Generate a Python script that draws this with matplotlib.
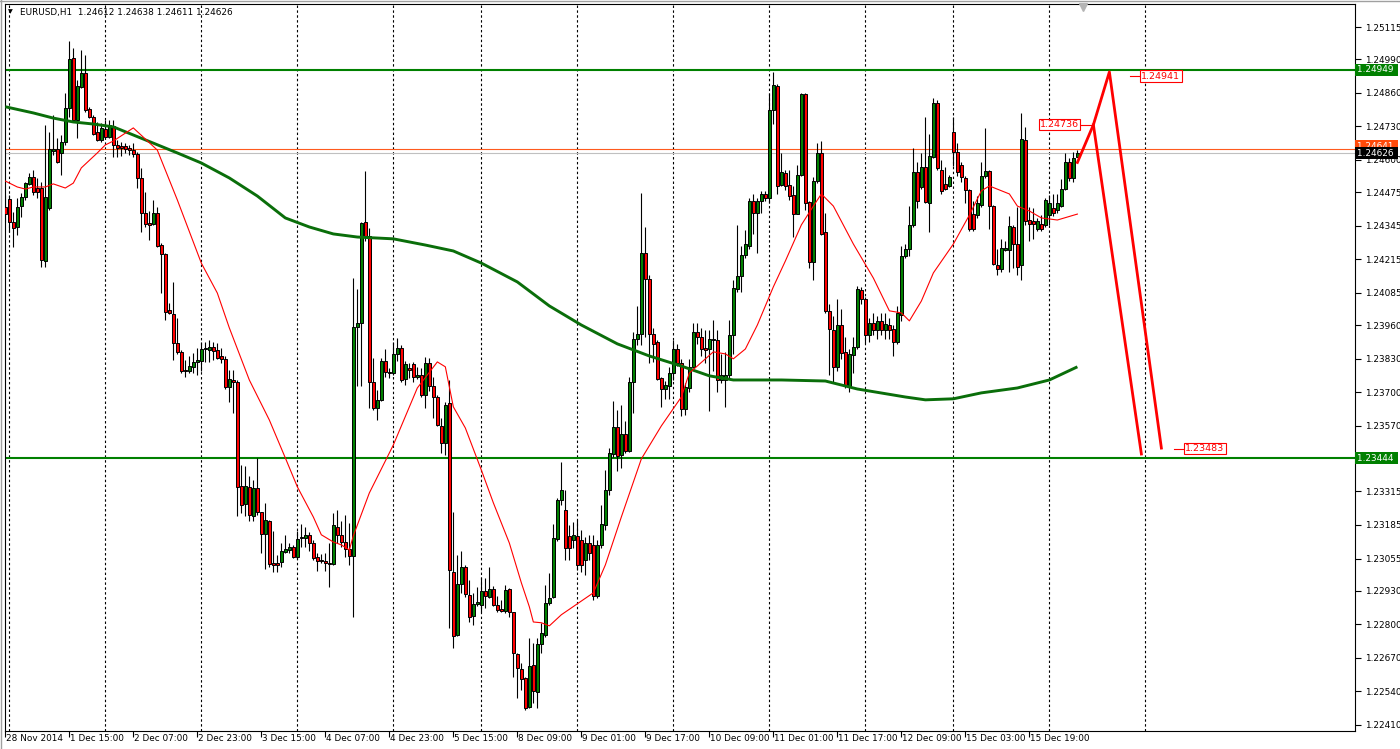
import numpy as np
import matplotlib.pyplot as plt
from matplotlib.lines import Line2D
from matplotlib.transforms import blended_transform_factory, ScaledTranslation

# EURUSD H1, first bar = 28 Nov 21:00 (index -1), bar 0 = 1 Dec 00:00
opens = [
    1.24419, 1.24448, 1.24358, 1.24341, 1.24423, 1.24457, 1.24507, 1.24535, 1.24492, 1.24490,
    1.24209, 1.24415, 1.24636, 1.24641, 1.24625, 1.24668, 1.24802, 1.24994, 1.24755, 1.24884,
    1.24935, 1.24797, 1.24768, 1.24707, 1.24677, 1.24720, 1.24690, 1.24733, 1.24658, 1.24654,
    1.24654, 1.24645, 1.24639, 1.24623, 1.24529, 1.24396, 1.24354, 1.24352, 1.24393, 1.24270,
    1.24235, 1.24018, 1.24003, 1.23889, 1.23854, 1.23786, 1.23780, 1.23799, 1.23818, 1.23822,
    1.23866, 1.23863, 1.23875, 1.23863, 1.23838, 1.23830, 1.23719, 1.23747, 1.23738, 1.23336,
    1.23265, 1.23334, 1.23218, 1.23327, 1.23234, 1.23151, 1.23201, 1.23037, 1.23037, 1.23041,
    1.23082, 1.23088, 1.23099, 1.23059, 1.23134, 1.23134, 1.23147, 1.23114, 1.23059, 1.23050,
    1.23047, 1.23037, 1.23033, 1.23179, 1.23147, 1.23120, 1.23090, 1.23065, 1.23954, 1.23967,
    1.24360, 1.24305, 1.23741, 1.23638, 1.23670, 1.23819, 1.23777, 1.23773, 1.23848, 1.23870,
    1.23751, 1.23793, 1.23808, 1.23758, 1.23767, 1.23689, 1.23812, 1.23722, 1.23680, 1.23567,
    1.23502, 1.23657, 1.23002, 1.22759, 1.22957, 1.23021, 1.22914, 1.22832, 1.22879, 1.22875,
    1.22929, 1.22907, 1.22937, 1.22875, 1.22858, 1.22853, 1.22937, 1.22846, 1.22685, 1.22627,
    1.22593, 1.22479, 1.22643, 1.22539, 1.22724, 1.22759, 1.22882, 1.22905, 1.23130, 1.23282,
    1.23243, 1.23143, 1.23127, 1.23143, 1.23127, 1.23050, 1.23116, 1.23108, 1.22910, 1.23108,
    1.23185, 1.23321, 1.23460, 1.23566, 1.23456, 1.23538, 1.23473, 1.23738, 1.23905, 1.23925,
    1.24240, 1.24137, 1.23925, 1.23893, 1.23753, 1.23711, 1.23725, 1.23773, 1.23866, 1.23811,
    1.23635, 1.23714, 1.23796, 1.23931, 1.23913, 1.23870, 1.23866, 1.23900, 1.23900, 1.23746,
    1.23746, 1.23765, 1.23922, 1.24098, 1.24150, 1.24232, 1.24265, 1.24441, 1.24395, 1.24441,
    1.24469, 1.24451, 1.24794, 1.24886, 1.24501, 1.24549, 1.24501, 1.24464, 1.24392, 1.24543,
    1.24855, 1.24438, 1.24204, 1.24519, 1.24627, 1.24321, 1.24015, 1.23941, 1.23796, 1.23959,
    1.23855, 1.23722, 1.23844, 1.23876, 1.24095, 1.24061, 1.23922, 1.23968, 1.23941, 1.23974,
    1.23941, 1.23959, 1.23944, 1.23894, 1.24000, 1.24228, 1.24256, 1.24349, 1.24553, 1.24493,
    1.24571, 1.24432, 1.24612, 1.24821, 1.24562, 1.24506, 1.24497, 1.24710, 1.24630, 1.24580,
    1.24530, 1.24482, 1.24389, 1.24386, 1.24426, 1.24538, 1.24556, 1.24423, 1.24191, 1.24178,
    1.24252, 1.24252, 1.24339, 1.24274, 1.24191, 1.24679, 1.24367, 1.24363, 1.24334, 1.24352,
    1.24349, 1.24386, 1.24413, 1.24404, 1.24423, 1.24488, 1.24590, 1.24530, 1.24612,
]
highs = [
    1.24464, 1.24464, 1.24399, 1.24451, 1.24470, 1.24516, 1.24548, 1.24561, 1.24529, 1.24516,
    1.24735, 1.24709, 1.24774, 1.24684, 1.24697, 1.24858, 1.25061, 1.25032, 1.24910, 1.25026,
    1.25006, 1.24806, 1.24774, 1.24748, 1.24742, 1.24755, 1.24755, 1.24755, 1.24677, 1.24671,
    1.24664, 1.24658, 1.24664, 1.24632, 1.24567, 1.24477, 1.24400, 1.24445, 1.24419, 1.24277,
    1.24238, 1.24044, 1.24128, 1.23986, 1.23863, 1.23825, 1.23838, 1.23851, 1.23870, 1.23896,
    1.23896, 1.23900, 1.23896, 1.23889, 1.23870, 1.23838, 1.23786, 1.23786, 1.23747, 1.23418,
    1.23414, 1.23375, 1.23360, 1.23444, 1.23237, 1.23269, 1.23205, 1.23160, 1.23069, 1.23114,
    1.23147, 1.23114, 1.23108, 1.23160, 1.23189, 1.23179, 1.23156, 1.23127, 1.23076, 1.23073,
    1.23078, 1.23114, 1.23231, 1.23244, 1.23200, 1.23224, 1.23193, 1.24141, 1.24099, 1.24361,
    1.24557, 1.24335, 1.23831, 1.23709, 1.23831, 1.23866, 1.23793, 1.23896, 1.23909, 1.23883,
    1.23819, 1.23812, 1.23816, 1.23799, 1.23793, 1.23835, 1.23831, 1.23760, 1.23689, 1.23599,
    1.23660, 1.23747, 1.23237, 1.23069, 1.23086, 1.23030, 1.22972, 1.22920, 1.22946, 1.22985,
    1.22979, 1.23024, 1.22949, 1.22910, 1.22894, 1.22953, 1.22940, 1.22849, 1.22688, 1.22649,
    1.22597, 1.22746, 1.22727, 1.22746, 1.22804, 1.22953, 1.22998, 1.23189, 1.23288, 1.23429,
    1.23321, 1.23185, 1.23197, 1.23205, 1.23166, 1.23139, 1.23147, 1.23147, 1.23127, 1.23263,
    1.23398, 1.23484, 1.23667, 1.23631, 1.23650, 1.23589, 1.23760, 1.23934, 1.24034, 1.24473,
    1.24341, 1.24154, 1.23947, 1.23902, 1.23757, 1.23744, 1.23799, 1.23902, 1.23885, 1.23829,
    1.23737, 1.23829, 1.23968, 1.23968, 1.23950, 1.23941, 1.23941, 1.23978, 1.23941, 1.23848,
    1.23855, 1.23978, 1.24135, 1.24349, 1.24265, 1.24330, 1.24451, 1.24469, 1.24451, 1.24478,
    1.24478, 1.24858, 1.24942, 1.24896, 1.24627, 1.24562, 1.24562, 1.24497, 1.24580, 1.24858,
    1.24858, 1.24441, 1.24534, 1.24664, 1.24673, 1.24395, 1.24043, 1.23996, 1.24061, 1.24024,
    1.23913, 1.23866, 1.23913, 1.24111, 1.24108, 1.24070, 1.23987, 1.24006, 1.23996, 1.24006,
    1.24006, 1.23987, 1.23959, 1.24033, 1.24265, 1.24274, 1.24423, 1.24645, 1.24590, 1.24627,
    1.24766, 1.24701, 1.24840, 1.24831, 1.24599, 1.24571, 1.24543, 1.24766, 1.24664, 1.24593,
    1.24538, 1.24488, 1.24441, 1.24460, 1.24590, 1.24723, 1.24562, 1.24426, 1.24256, 1.24293,
    1.24284, 1.24382, 1.24349, 1.24419, 1.24781, 1.24729, 1.24419, 1.24413, 1.24376, 1.24386,
    1.24451, 1.24464, 1.24469, 1.24469, 1.24525, 1.24627, 1.24608, 1.24630, 1.24638,
]
lows = [
    1.24361, 1.24322, 1.24264, 1.24309, 1.24380, 1.24445, 1.24503, 1.24464, 1.24451, 1.24186,
    1.24186, 1.24406, 1.24619, 1.24587, 1.24542, 1.24658, 1.24768, 1.24748, 1.24684, 1.24877,
    1.24787, 1.24761, 1.24697, 1.24673, 1.24671, 1.24684, 1.24684, 1.24613, 1.24613, 1.24615,
    1.24626, 1.24619, 1.24613, 1.24490, 1.24322, 1.24341, 1.24290, 1.24348, 1.24261, 1.24083,
    1.23980, 1.24003, 1.23825, 1.23848, 1.23773, 1.23758, 1.23773, 1.23773, 1.23767, 1.23780,
    1.23818, 1.23818, 1.23825, 1.23827, 1.23812, 1.23711, 1.23663, 1.23618, 1.23218, 1.23231,
    1.23220, 1.23202, 1.23202, 1.23224, 1.23076, 1.23014, 1.23021, 1.23001, 1.23001, 1.23021,
    1.23078, 1.23078, 1.23056, 1.23054, 1.23101, 1.23101, 1.23086, 1.23050, 1.23008, 1.23037,
    1.23005, 1.22944, 1.23030, 1.23114, 1.23100, 1.23060, 1.23030, 1.22829, 1.23722, 1.23722,
    1.24284, 1.23638, 1.23631, 1.23593, 1.23664, 1.23760, 1.23754, 1.23767, 1.23819, 1.23741,
    1.23728, 1.23754, 1.23741, 1.23750, 1.23680, 1.23638, 1.23706, 1.23599, 1.23567, 1.23463,
    1.23457, 1.22785, 1.22707, 1.22755, 1.22920, 1.22907, 1.22810, 1.22798, 1.22869, 1.22849,
    1.22862, 1.22901, 1.22869, 1.22849, 1.22849, 1.22843, 1.22830, 1.22597, 1.22513, 1.22546,
    1.22469, 1.22475, 1.22494, 1.22475, 1.22690, 1.22752, 1.22875, 1.22901, 1.23121, 1.23263,
    1.23050, 1.23050, 1.23096, 1.23011, 1.23003, 1.22992, 1.23050, 1.22895, 1.22902, 1.23096,
    1.23166, 1.23301, 1.23450, 1.23396, 1.23405, 1.23465, 1.23469, 1.23618, 1.23883, 1.23883,
    1.23915, 1.23812, 1.23818, 1.23747, 1.23641, 1.23672, 1.23672, 1.23747, 1.23800, 1.23607,
    1.23611, 1.23700, 1.23792, 1.23885, 1.23839, 1.23811, 1.23625, 1.23783, 1.23700, 1.23737,
    1.23644, 1.23756, 1.23848, 1.24089, 1.24089, 1.24219, 1.24256, 1.24311, 1.24241, 1.24395,
    1.24441, 1.24432, 1.24738, 1.24469, 1.24497, 1.24482, 1.24445, 1.24302, 1.24389, 1.24538,
    1.24404, 1.24182, 1.24135, 1.24512, 1.24308, 1.24006, 1.23765, 1.23737, 1.23783, 1.23829,
    1.23714, 1.23700, 1.23774, 1.23866, 1.24043, 1.23889, 1.23894, 1.23922, 1.23904, 1.23922,
    1.23904, 1.23907, 1.23839, 1.23885, 1.23974, 1.24219, 1.24228, 1.24339, 1.24413, 1.24488,
    1.24432, 1.24321, 1.24608, 1.24562, 1.24469, 1.24482, 1.24493, 1.24575, 1.24538, 1.24515,
    1.24432, 1.24326, 1.24326, 1.24376, 1.24419, 1.24530, 1.24334, 1.24191, 1.24154, 1.24167,
    1.24247, 1.24167, 1.24182, 1.24154, 1.24135, 1.24349, 1.24284, 1.24293, 1.24326, 1.24326,
    1.24339, 1.24349, 1.24382, 1.24395, 1.24419, 1.24482, 1.24519, 1.24515, 1.24611,
]
closes = [
    1.24389, 1.24361, 1.24337, 1.24419, 1.24457, 1.24509, 1.24535, 1.24474, 1.24474, 1.24212,
    1.24455, 1.24641, 1.24641, 1.24591, 1.24668, 1.24802, 1.24990, 1.24755, 1.24886, 1.24935,
    1.24793, 1.24768, 1.24700, 1.24677, 1.24725, 1.24690, 1.24735, 1.24658, 1.24645, 1.24645,
    1.24644, 1.24639, 1.24623, 1.24531, 1.24393, 1.24350, 1.24349, 1.24393, 1.24268, 1.24235,
    1.24012, 1.24006, 1.23889, 1.23854, 1.23780, 1.23780, 1.23801, 1.23816, 1.23825, 1.23867,
    1.23871, 1.23875, 1.23860, 1.23834, 1.23830, 1.23719, 1.23750, 1.23738, 1.23334, 1.23263,
    1.23336, 1.23222, 1.23327, 1.23234, 1.23151, 1.23205, 1.23033, 1.23030, 1.23030, 1.23085,
    1.23092, 1.23099, 1.23059, 1.23130, 1.23140, 1.23147, 1.23114, 1.23056, 1.23047, 1.23044,
    1.23037, 1.23034, 1.23185, 1.23147, 1.23120, 1.23090, 1.23065, 1.23954, 1.23967, 1.24357,
    1.24305, 1.23741, 1.23638, 1.23670, 1.23819, 1.23777, 1.23773, 1.23848, 1.23870, 1.23747,
    1.23809, 1.23786, 1.23758, 1.23767, 1.23689, 1.23812, 1.23722, 1.23680, 1.23573, 1.23502,
    1.23651, 1.23011, 1.22755, 1.22957, 1.23021, 1.22916, 1.22827, 1.22879, 1.22888, 1.22929,
    1.22910, 1.22937, 1.22875, 1.22856, 1.22853, 1.22933, 1.22849, 1.22688, 1.22630, 1.22587,
    1.22475, 1.22639, 1.22543, 1.22724, 1.22768, 1.22882, 1.22901, 1.23133, 1.23282, 1.23321,
    1.23096, 1.23096, 1.23147, 1.23030, 1.23030, 1.23116, 1.23077, 1.22910, 1.23108, 1.23189,
    1.23321, 1.23463, 1.23566, 1.23452, 1.23538, 1.23473, 1.23738, 1.23905, 1.23925, 1.24240,
    1.24137, 1.23925, 1.23886, 1.23751, 1.23711, 1.23728, 1.23775, 1.23866, 1.23811, 1.23635,
    1.23718, 1.23796, 1.23931, 1.23913, 1.23866, 1.23863, 1.23904, 1.23904, 1.23746, 1.23765,
    1.23765, 1.23922, 1.24104, 1.24150, 1.24232, 1.24274, 1.24441, 1.24395, 1.24441, 1.24469,
    1.24451, 1.24794, 1.24890, 1.24497, 1.24553, 1.24497, 1.24460, 1.24392, 1.24543, 1.24855,
    1.24432, 1.24204, 1.24519, 1.24627, 1.24311, 1.24015, 1.23944, 1.23796, 1.23959, 1.23852,
    1.23722, 1.23848, 1.23876, 1.24098, 1.24061, 1.23922, 1.23968, 1.23941, 1.23974, 1.23941,
    1.23963, 1.23941, 1.23894, 1.24006, 1.24228, 1.24256, 1.24349, 1.24553, 1.24441, 1.24571,
    1.24438, 1.24617, 1.24821, 1.24567, 1.24478, 1.24488, 1.24534, 1.24630, 1.24553, 1.24534,
    1.24482, 1.24334, 1.24334, 1.24432, 1.24538, 1.24556, 1.24423, 1.24197, 1.24178, 1.24260,
    1.24260, 1.24345, 1.24274, 1.24186, 1.24682, 1.24363, 1.24352, 1.24352, 1.24363, 1.24334,
    1.24445, 1.24432, 1.24395, 1.24432, 1.24488, 1.24590, 1.24530, 1.24608, 1.24626,
]

# moving averages (bar index, price)
red_ma_bar = [-1, 2, 4, 6, 9, 11, 14, 16, 18, 22, 24, 26, 31, 37, 42, 48, 52, 55, 60, 65,
              69, 72, 76, 78, 81, 83, 85, 86, 90, 96, 102, 107, 109, 111, 114, 118, 121, 125,
              128, 130, 131, 133, 135, 138, 146, 149, 153, 158, 163, 168, 170, 176, 179, 181,
              184, 187, 191, 194, 198, 201, 203, 206, 211, 216, 220, 223, 225, 228, 231, 236,
              240, 243, 245, 250, 252, 255, 258, 262, 267]
red_ma_val = [1.24518, 1.24495, 1.24487, 1.24495, 1.24495, 1.24507, 1.24491, 1.24510, 1.24569,
              1.24627, 1.24658, 1.24673, 1.24724, 1.24638, 1.24445, 1.24200, 1.24084, 1.23949,
              1.23747, 1.23592, 1.23445, 1.23333, 1.23216, 1.23147, 1.23119, 1.23108, 1.23088,
              1.23143, 1.23309, 1.23495, 1.23716, 1.23817, 1.23798, 1.23643, 1.23561, 1.23398,
              1.23271, 1.23115, 1.22961, 1.22868, 1.22809, 1.22806, 1.22794, 1.22837, 1.22922,
              1.23030, 1.23216, 1.23441, 1.23569, 1.23681, 1.23774, 1.23856, 1.23848, 1.23829,
              1.23867, 1.23960, 1.24108, 1.24208, 1.24348, 1.24421, 1.24468, 1.24421, 1.24274,
              1.24142, 1.24015, 1.24007, 1.23976, 1.24053, 1.24162, 1.24274, 1.24386, 1.24480,
              1.24499, 1.24468, 1.24421, 1.24402, 1.24375, 1.24367, 1.24390]
green_ma_bar = [-1, 6, 11, 16, 21, 26, 36, 42, 48, 55, 62, 69, 75, 81, 87, 96, 104, 111, 118,
                127, 135, 143, 152, 160, 168, 175, 181, 193, 204, 212, 224, 229, 236, 243, 252,
                260, 267]
green_ma_val = [1.24806, 1.24782, 1.24762, 1.24747, 1.24739, 1.24728, 1.24665, 1.24627, 1.24588,
                1.24530, 1.24460, 1.24375, 1.24340, 1.24313, 1.24301, 1.24294, 1.24270, 1.24247,
                1.24200, 1.24127, 1.24034, 1.23960, 1.23887, 1.23840, 1.23801, 1.23763, 1.23747,
                1.23747, 1.23743, 1.23712, 1.23681, 1.23670, 1.23674, 1.23697, 1.23716, 1.23747,
                1.23798]

# levels and projection
support = 1.23444
resistance = 1.24949
bid, ask = 1.24626, 1.24641
proj_a_bar = [267, 271, 275, 288]
proj_a_val = [1.24590, 1.24736, 1.24941, 1.23483]
proj_b_bar = [271, 283]
proj_b_val = [1.24736, 1.23460]

day_starts = [0, 24, 48, 72, 96, 118, 142, 166, 190, 214, 236, 260, 284]
time_tick_bars = [-1, 15, 31, 47, 63, 79, 95, 111, 127, 143, 159, 175, 191, 207, 223, 239, 255]
time_tick_labels = ["28 Nov 2014", "1 Dec 15:00", "2 Dec 07:00", "2 Dec 23:00", "3 Dec 15:00",
                    "4 Dec 07:00", "4 Dec 23:00", "5 Dec 15:00", "8 Dec 09:00", "9 Dec 01:00",
                    "9 Dec 17:00", "10 Dec 09:00", "11 Dec 01:00", "11 Dec 17:00", "12 Dec 09:00",
                    "15 Dec 03:00", "15 Dec 19:00"]
# 1.23440 sits under the support tag, so it is not listed
price_ticks = [1.25115, 1.24990, 1.24860, 1.24730, 1.24600, 1.24475, 1.24345, 1.24215, 1.24085,
               1.23960, 1.23830, 1.23700, 1.23570, 1.23315, 1.23185, 1.23055, 1.22930,
               1.22800, 1.22670, 1.22540, 1.22410]

plt.rcParams['font.family'] = ['DejaVu Sans']
fig = plt.figure(figsize=(14, 7.49), dpi=100)
ax = fig.add_axes([4.5 / 1400, 18.4 / 749, 1350.5 / 1400, 726.8 / 749])

o = np.array(opens)
h = np.array(highs)
l = np.array(lows)
c = np.array(closes)
x = np.arange(-1, len(o) - 1)
up = c >= o

# candles
ax.vlines(x, l, h, color='black', lw=0.8, zorder=3)
body_lo = np.minimum(o, c)
body_h = np.maximum(np.abs(c - o), 0.00002)
ax.bar(x[up], body_h[up], bottom=body_lo[up], width=0.62, color='#008000',
       edgecolor='black', linewidth=0.7, zorder=4)
ax.bar(x[~up], body_h[~up], bottom=body_lo[~up], width=0.62, color='#ff0000',
       edgecolor='black', linewidth=0.7, zorder=4)

# indicators
ax.plot(green_ma_bar, green_ma_val, color='#0a6e0a', lw=2.1, zorder=5, solid_capstyle='butt')
ax.plot(red_ma_bar, red_ma_val, color='#ff0000', lw=0.8, zorder=5)

# day separators
for d in day_starts:
    ax.axvline(d, color='black', lw=0.8, linestyle=(0, (2.2, 2.2)), zorder=1)

# horizontal levels
ax.axhline(resistance, color='#008000', lw=1.5, zorder=2)
ax.axhline(support, color='#008000', lw=1.5, zorder=2)
ax.axhline(ask, color='#ff5a1e', lw=0.8, zorder=2)
ax.axhline(bid, color='#c0c0c0', lw=0.8, zorder=2)

# projection
ax.plot(proj_a_bar, proj_a_val, color='#ff0000', lw=2.0, zorder=6)
ax.plot(proj_b_bar, proj_b_val, color='#ff0000', lw=2.0, zorder=6)

box = dict(boxstyle='square,pad=0.12', fc='white', ec='#ff0000', lw=0.8)
ax.plot([267.5, 271], [1.24736, 1.24736], color='#ff0000', lw=0.8, zorder=6)
ax.text(267.4, 1.24736, '1.24736', color='#ff0000', fontsize=6.8, ha='right', va='center',
        bbox=box, zorder=7)
ax.plot([280.2, 282.7], [1.24925, 1.24925], color='#ff0000', lw=0.8, zorder=6)
ax.text(283.0, 1.24925, '1.24941', color='#ff0000', fontsize=6.8, ha='left', va='center',
        bbox=box, zorder=7)
ax.plot([291.2, 293.7], [1.23480, 1.23480], color='#ff0000', lw=0.8, zorder=6)
ax.text(294.0, 1.23480, '1.23483', color='#ff0000', fontsize=6.8, ha='left', va='center',
        bbox=box, zorder=7)

# chart-shift marker
tr_top = blended_transform_factory(ax.transData, ax.transAxes)
ax.plot([268.4], [0.9955], marker='v', ms=6, color='#b4b4b4', transform=tr_top,
        clip_on=False, zorder=8)

ax.set_xlim(-1.2, 336.4)
ax.set_ylim(1.22388, 1.25205)

ax.yaxis.tick_right()
ax.set_yticks(price_ticks)
ax.set_yticklabels([f'{v:.5f}' for v in price_ticks])
ax.tick_params(axis='y', direction='out', length=4, width=0.8, labelsize=6.4, pad=3)
ax.set_xticks(time_tick_bars)
ax.set_xticklabels(time_tick_labels, ha='left')
ax.tick_params(axis='x', direction='out', length=4, width=0.8, labelsize=6.4, pad=-1.5)
shift = ScaledTranslation(0.6 / 72, 0, fig.dpi_scale_trans)
for lab in ax.get_xticklabels():
    lab.set_transform(lab.get_transform() + shift)
for s in ax.spines.values():
    s.set_linewidth(0.8)
    s.set_color('black')

# price tags on the right scale
tr_r = blended_transform_factory(ax.transAxes, ax.transData)
tag = dict(ha='left', va='center', fontsize=6.4, transform=tr_r, zorder=10, clip_on=False)
ax.text(1.0015, resistance, '1.24949 ', color='white',
        bbox=dict(boxstyle='square,pad=0.2', fc='#008000', ec='none'), **tag)
ax.text(1.0015, support, '1.23444 ', color='white',
        bbox=dict(boxstyle='square,pad=0.2', fc='#008000', ec='none'), **tag)
ax.text(1.0015, ask + 0.00012, '1.24641 ', color='white',
        bbox=dict(boxstyle='square,pad=0.2', fc='#ff4a0a', ec='none'), **tag)
ax.text(1.0015, bid, '1.24626 ', color='white',
        bbox=dict(boxstyle='square,pad=0.2', fc='black', ec='none'), **tag)

# header
fig.text(8 / 1400, 1 - 12 / 749, '\u25bc', fontsize=4.5, va='center')
fig.text(20 / 1400, 1 - 12 / 749, 'EURUSD,H1  1.24612 1.24638 1.24611 1.24626',
         fontsize=6.4, va='center')

fig.add_artist(Line2D([0, 1], [0.9993, 0.9993], color='#a0a0a0', lw=1, transform=fig.transFigure))
fig.add_artist(Line2D([0.0004, 0.0004], [0, 1], color='#a0a0a0', lw=1, transform=fig.transFigure))

fig.savefig('out.png', dpi=100)
